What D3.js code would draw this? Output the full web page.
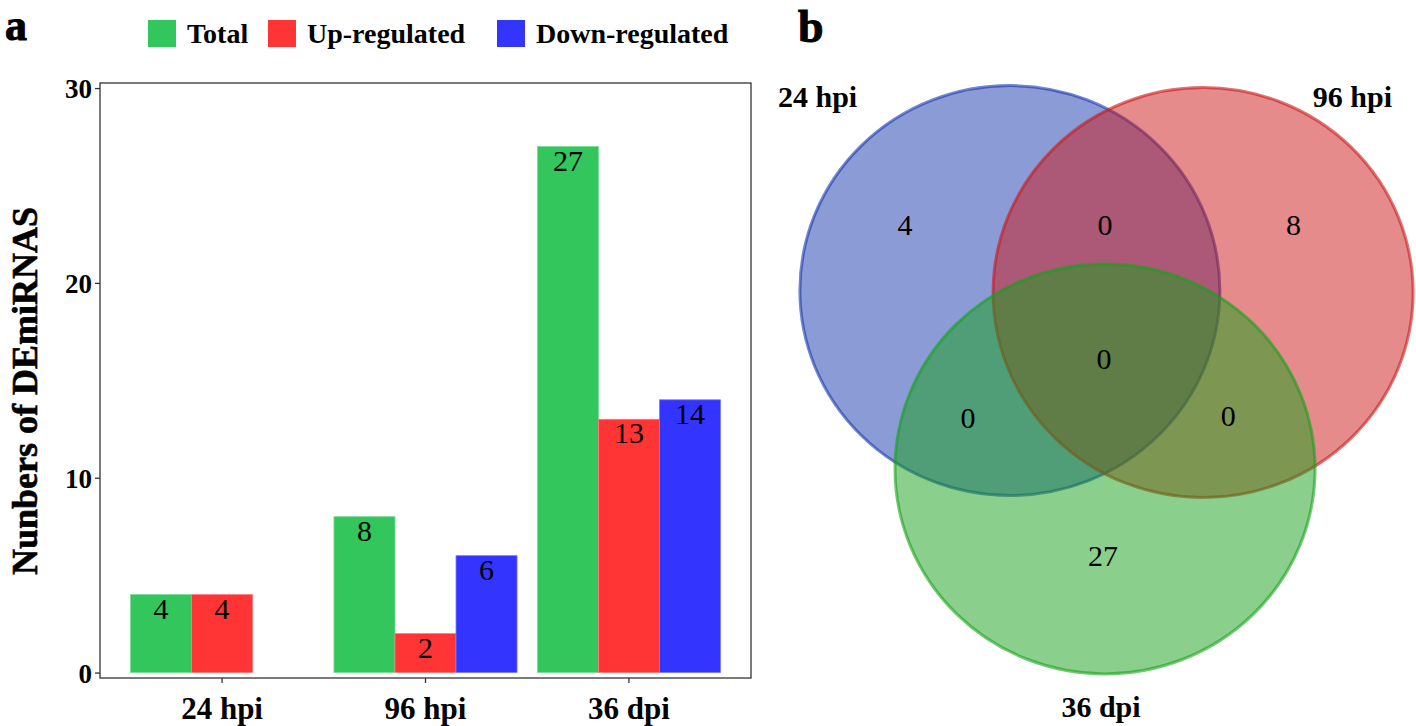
<!DOCTYPE html>
<html>
<head>
<meta charset="utf-8">
<script src="https://cdn.jsdelivr.net/npm/d3@7"></script>
<style>
  html, body { margin: 0; padding: 0; background: #fff; }
  svg { display: block; }
  text { font-family: "Liberation Serif", "Times New Roman", serif; }
</style>
</head>
<body>
<svg id="chart" width="1416" height="726"></svg>
<script>
// ---- Data ----
const categories = ["24 hpi", "96 hpi", "36 dpi"];
const seriesNames = ["Total", "Up-regulated", "Down-regulated"];
const totalValues = [4, 8, 27];
const upValues = [4, 2, 13];
const downValues = [0, 6, 14];
const yTickValues = [0, 10, 20, 30];
const seriesColors = ["#33C65C", "#FF3434", "#3434FF"];

const vennSetNames = ["24 hpi", "96 hpi", "36 dpi"];
const vennSetColors = ["#1537AD", "#CB1717", "#15A119"];
// region counts: only A, only B, only C, A&B, A&C, B&C, A&B&C
const vennRegionKeys = ["A", "B", "C", "AB", "AC", "BC", "ABC"];
const vennRegionCounts = [4, 8, 27, 0, 0, 0, 0];

const svg = d3.select("#chart");

// ---- Panel a: grouped bars ----
const frame = { left: 100, right: 751, top: 83, bottom: 678 };
const x0 = d3.scaleBand().domain(categories).range([frame.left, frame.right])
  .paddingInner(0.1).paddingOuter(0.15);
const x1 = d3.scaleBand().domain(seriesNames).range([0, x0.bandwidth()]).padding(0);
const y = d3.scaleLinear().domain([-0.28, 30.26]).range([frame.bottom, frame.top]);

const seriesValues = [totalValues, upValues, downValues];
const barData = [];
categories.forEach((c, i) => {
  seriesNames.forEach((s, j) => {
    barData.push({ cat: c, series: s, value: seriesValues[j][i], color: seriesColors[j] });
  });
});

const gBars = svg.append("g");
gBars.selectAll("rect").data(barData.filter(d => d.value > 0)).join("rect")
  .attr("x", d => x0(d.cat) + x1(d.series))
  .attr("width", x1.bandwidth())
  .attr("y", d => y(d.value))
  .attr("height", d => y(0) - y(d.value))
  .attr("fill", d => d.color)
  .attr("stroke", d => d3.interpolateRgb(d.color, "#ffffff")(0.35))
  .attr("stroke-width", 0.8);

gBars.selectAll("text").data(barData.filter(d => d.value > 0)).join("text")
  .attr("x", d => x0(d.cat) + x1(d.series) + x1.bandwidth() / 2)
  .attr("y", d => y(d.value) + 24)
  .attr("text-anchor", "middle")
  .attr("font-size", 30)
  .attr("fill", "#000")
  .text(d => d.value);

// frame
svg.append("rect")
  .attr("x", frame.left).attr("y", frame.top)
  .attr("width", frame.right - frame.left).attr("height", frame.bottom - frame.top)
  .attr("fill", "none").attr("stroke", "#333").attr("stroke-width", 1.3);

// y axis
const yAxis = d3.axisLeft(y).tickValues(yTickValues).tickSize(5).tickPadding(3);
const gy = svg.append("g").attr("transform", `translate(${frame.left},0)`).call(yAxis);
gy.select(".domain").remove();
gy.selectAll(".tick line").attr("stroke", "#333").attr("stroke-width", 1.3);
gy.selectAll(".tick text")
  .attr("font-family", "Liberation Serif, Times New Roman, serif")
  .attr("font-size", 27).attr("font-weight", "bold").attr("fill", "#000")
  .attr("dy", "0.36em");

// x axis
const xAxis = d3.axisBottom(x0).tickSize(5).tickPadding(14);
const gx = svg.append("g").attr("transform", `translate(0,${frame.bottom})`).call(xAxis);
gx.select(".domain").remove();
gx.selectAll(".tick line").attr("stroke", "#333").attr("stroke-width", 1.3);
gx.selectAll(".tick text")
  .attr("font-family", "Liberation Serif, Times New Roman, serif")
  .attr("font-size", 31).attr("font-weight", "bold").attr("fill", "#000")
  .attr("dy", "0.7em");

// y title
svg.append("text")
  .attr("transform", `translate(37,391) rotate(-90)`)
  .attr("text-anchor", "middle")
  .attr("font-size", 36).attr("font-weight", "bold").attr("fill", "#000")
  .attr("stroke", "#000").attr("stroke-width", 0.6)
  .text("Nunbers of DEmiRNAS");

// legend
const legendX = [148, 268, 497];
const gLeg = svg.append("g");
seriesNames.forEach((s, i) => {
  gLeg.append("rect").attr("x", legendX[i]).attr("y", 20).attr("width", 28).attr("height", 27)
    .attr("fill", seriesColors[i]);
  gLeg.append("text").attr("x", legendX[i] + 39).attr("y", 43)
    .attr("font-size", 28).attr("font-weight", "bold").attr("fill", "#000")
    .text(s);
});

// panel letters
svg.append("text").attr("x", 5).attr("y", 40).attr("font-size", 44).attr("font-weight", "bold")
  .attr("stroke", "#000").attr("stroke-width", 1).text("a");
svg.append("text").attr("x", 798).attr("y", 42).attr("font-size", 46).attr("font-weight", "bold")
  .attr("stroke", "#000").attr("stroke-width", 1).text("b");

// ---- Panel b: Venn diagram ----
const vx = d3.scaleLinear().domain([0, 1]).range([1106.5, 1106.5 + 210]);
const vy = d3.scaleLinear().domain([0, 1]).range([350, 350 + 205]);
const vennCenters = [[-0.46, -0.29], [0.46, -0.28], [-0.007, 0.58]];

const gV = svg.append("g");
vennSetNames.forEach((n, i) => {
  gV.append("ellipse")
    .attr("cx", vx(vennCenters[i][0])).attr("cy", vy(vennCenters[i][1]))
    .attr("rx", vx(1) - vx(0)).attr("ry", vy(1) - vy(0))
    .attr("fill", vennSetColors[i]).attr("fill-opacity", 0.5)
    .attr("stroke", vennSetColors[i]).attr("stroke-opacity", 0.6).attr("stroke-width", 3);
});

// region label positions in venn units
const regionPos = {
  A: [-0.96, -0.61], B: [0.89, -0.61], C: [-0.017, 1.0],
  AB: [-0.007, -0.61], AC: [-0.66, 0.33], BC: [0.58, 0.32], ABC: [-0.012, 0.04]
};
gV.selectAll("text.region").data(vennRegionKeys).join("text")
  .attr("class", "region")
  .attr("x", (k) => vx(regionPos[k][0]))
  .attr("y", (k) => vy(regionPos[k][1]))
  .attr("dy", "0.35em")
  .attr("text-anchor", "middle")
  .attr("font-size", 30).attr("fill", "#000")
  .text((k, i) => vennRegionCounts[i]);

// set labels
const setLabelPos = [
  { x: 778, y: 107, anchor: "start" },
  { x: 1392, y: 107, anchor: "end" },
  { x: 1101, y: 717, anchor: "middle" }
];
vennSetNames.forEach((n, i) => {
  gV.append("text").attr("x", setLabelPos[i].x).attr("y", setLabelPos[i].y)
    .attr("text-anchor", setLabelPos[i].anchor)
    .attr("font-size", 30).attr("font-weight", "bold").attr("fill", "#000")
    .text(n);
});
</script>
</body>
</html>
